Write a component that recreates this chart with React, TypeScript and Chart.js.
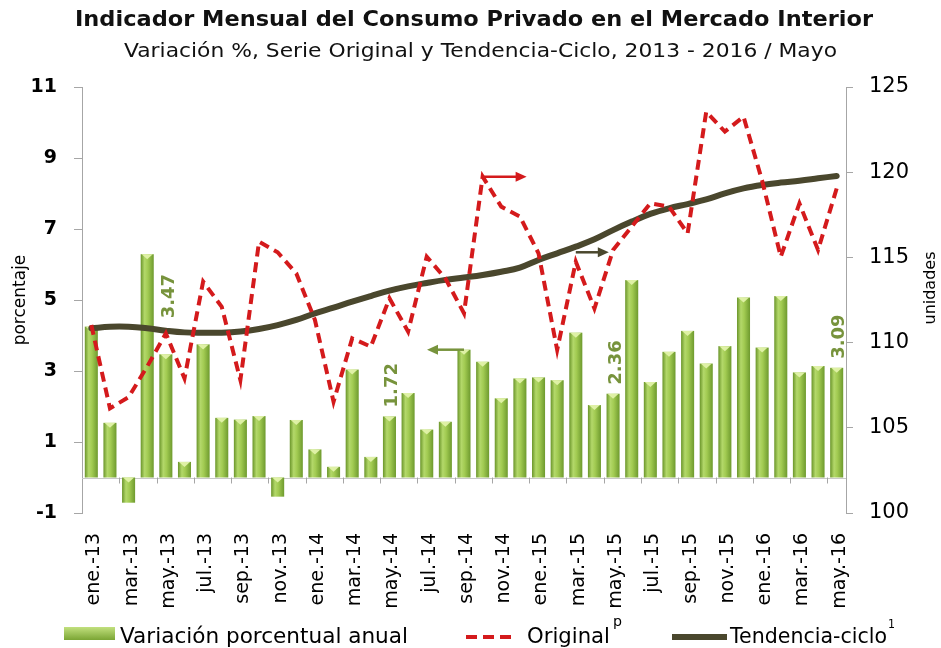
import React, { useEffect, useRef } from 'react';
import { Chart, registerables } from 'chart.js';

Chart.register(...registerables);

// ---------- data ----------
const categories: string[] = [
  'ene.-13', 'feb.-13', 'mar.-13', 'abr.-13', 'may.-13', 'jun.-13', 'jul.-13', 'ago.-13', 'sep.-13', 'oct.-13', 'nov.-13', 'dic.-13',
  'ene.-14', 'feb.-14', 'mar.-14', 'abr.-14', 'may.-14', 'jun.-14', 'jul.-14', 'ago.-14', 'sep.-14', 'oct.-14', 'nov.-14', 'dic.-14',
  'ene.-15', 'feb.-15', 'mar.-15', 'abr.-15', 'may.-15', 'jun.-15', 'jul.-15', 'ago.-15', 'sep.-15', 'oct.-15', 'nov.-15', 'dic.-15',
  'ene.-16', 'feb.-16', 'mar.-16', 'abr.-16', 'may.-16',
];

// Variación porcentual anual (left axis, %)
const variacionAnual: number[] = [
  4.25, 1.54, -0.71, 6.29, 3.47, 0.44, 3.75, 1.68, 1.63, 1.73, -0.54, 1.62,
  0.79, 0.30, 3.04, 0.58, 1.72, 2.38, 1.35, 1.57, 3.60, 3.26, 2.23, 2.79,
  2.82, 2.74, 4.08, 2.04, 2.36, 5.56, 2.69, 3.54, 4.13, 3.21, 3.70, 5.07,
  3.66, 5.11, 2.96, 3.14, 3.09,
];

// Serie original (right axis, unidades)
const serieOriginal: number[] = [
  111.03, 106.14, 106.8, 108.6, 110.54, 107.9, 113.58, 112.1, 107.8, 115.92, 115.3, 114.06,
  111.33, 106.53, 110.25, 109.76, 112.6, 110.64, 115.04, 113.77, 111.72, 119.74, 117.98, 117.4,
  115.24, 109.57, 114.75, 112.0, 115.43, 116.8, 118.17, 117.98, 116.41, 123.55, 122.38, 123.26,
  119.5, 115.04, 118.17, 115.43, 119.05,
];

// Tendencia-ciclo (right axis, unidades)
const tendenciaCiclo: number[] = [
  110.84, 110.93, 110.93, 110.84, 110.7, 110.6, 110.58, 110.58, 110.65, 110.8, 111.03, 111.33,
  111.72, 112.05, 112.4, 112.73, 113.05, 113.3, 113.5, 113.68, 113.82, 113.97, 114.16, 114.4,
  114.85, 115.24, 115.63, 116.06, 116.6, 117.1, 117.55, 117.88, 118.13, 118.4, 118.76, 119.05,
  119.25, 119.39, 119.5, 119.64, 119.78,
];

const leftAxis = { min: -1, max: 11, step: 2 };
const rightAxis = { min: 100, max: 125, step: 5 };

// indices of bars that carry a value label
const labeledBars: number[] = [4, 16, 28, 40];

const TITLE = 'Indicador Mensual del Consumo Privado en el Mercado Interior';
const SUBTITLE = 'Variación %, Serie Original y Tendencia-Ciclo, 2013 - 2016 / Mayo';
const LEFT_TITLE = 'porcentaje';
const RIGHT_TITLE = 'unidades';
const LEGEND_BAR = 'Variación porcentual anual';
const LEGEND_ORIG = 'Original';
const LEGEND_ORIG_SUP = 'p';
const LEGEND_TREND = 'Tendencia-ciclo';
const LEGEND_TREND_SUP = '1';

// ---------- styles ----------
const RED = '#d41a1c';
const DARK = '#4a472d';
const GREEN_TXT = '#77933c';
const AXIS_GRAY = '#a6a6a6';
const FONT = '"DejaVu Sans", sans-serif';

function fittedText(
  ctx: CanvasRenderingContext2D, text: string, x: number, y: number,
  font: string, width: number, color = '#000'
) {
  ctx.save();
  ctx.font = font;
  ctx.fillStyle = color;
  ctx.textAlign = 'left';
  ctx.textBaseline = 'alphabetic';
  const w = ctx.measureText(text).width;
  ctx.translate(x, y);
  ctx.scale(width / w, 1);
  ctx.fillText(text, 0, 0);
  ctx.restore();
}

function arrow(ctx: CanvasRenderingContext2D, x0: number, y: number, len: number, dir: number, color: string) {
  const x1 = x0 + dir * len;
  const head = 11;
  ctx.save();
  ctx.strokeStyle = color;
  ctx.fillStyle = color;
  ctx.lineWidth = 2.5;
  ctx.beginPath();
  ctx.moveTo(x0, y);
  ctx.lineTo(x1 - dir * head * 0.8, y);
  ctx.stroke();
  ctx.beginPath();
  ctx.moveTo(x1, y);
  ctx.lineTo(x1 - dir * head, y - 5);
  ctx.lineTo(x1 - dir * head, y + 5);
  ctx.closePath();
  ctx.fill();
  ctx.restore();
}

const decorPlugin = {
  id: 'decor',
  beforeDatasetsDraw(chart: any) {
    const { ctx, chartArea, scales } = chart;
    const y0 = scales.y.getPixelForValue(0);
    ctx.save();
    ctx.strokeStyle = '#c8c8c8';
    ctx.lineWidth = 1;
    ctx.beginPath();
    ctx.moveTo(chartArea.left, Math.round(y0) + 0.5);
    ctx.lineTo(chartArea.right, Math.round(y0) + 0.5);
    ctx.stroke();
    const n = categories.length;
    const step = (chartArea.right - chartArea.left) / n;
    ctx.strokeStyle = AXIS_GRAY;
    ctx.beginPath();
    for (let k = 2; k < n; k += 2) {
      const x = Math.round(chartArea.left + k * step) + 0.5;
      ctx.moveTo(x, y0);
      ctx.lineTo(x, y0 + 6);
    }
    ctx.stroke();
    ctx.restore();
  },
  beforeDatasetDraw(chart: any, args: any) {
    if (args.index !== 0) return;
    const { ctx } = chart;
    const meta = chart.getDatasetMeta(0);
    ctx.save();
    meta.data.forEach((el: any) => {
      const { x, y, base, width } = el.getProps(['x', 'y', 'base', 'width'], true);
      const left = x - width / 2;
      const top = Math.min(y, base);
      const h = Math.abs(base - y);
      const g = ctx.createLinearGradient(left, 0, left + width, 0);
      g.addColorStop(0, '#6a952a');
      g.addColorStop(0.3, '#b3d86a');
      g.addColorStop(0.55, '#a2cb52');
      g.addColorStop(1, '#6e9a2e');
      ctx.fillStyle = g;
      ctx.fillRect(left, top, width, h);
      ctx.fillStyle = 'rgba(225,242,170,0.95)';
      ctx.beginPath();
      ctx.moveTo(left + 1, top);
      ctx.lineTo(left + width - 1, top);
      ctx.lineTo(x, top + 5);
      ctx.closePath();
      ctx.fill();
    });
    ctx.restore();
    return false;
  },
  afterDatasetsDraw(chart: any) {
    const { ctx, scales } = chart;
    const x = scales.x;
    // arrows pointing to the axis each series uses
    arrow(ctx, x.getPixelForValue(21), scales.y1.getPixelForValue(serieOriginal[21]), 44, 1, RED);
    arrow(ctx, x.getPixelForValue(26), scales.y1.getPixelForValue(115.3), 33, 1, DARK);
    arrow(ctx, x.getPixelForValue(20), scales.y.getPixelForValue(variacionAnual[20]), 37, -1, GREEN_TXT);

    // value labels
    const meta = chart.getDatasetMeta(0);
    ctx.save();
    ctx.font = `bold 18px ${FONT}`;
    ctx.fillStyle = GREEN_TXT;
    ctx.textAlign = 'left';
    ctx.textBaseline = 'middle';
    labeledBars.forEach((i) => {
      const el = meta.data[i];
      const lift = i === 4 ? 36 : 9;
      ctx.save();
      ctx.translate(el.x + 3, el.y - lift);
      ctx.rotate(-Math.PI / 2);
      ctx.fillText(variacionAnual[i].toFixed(2), 0, 0);
      ctx.restore();
    });
    ctx.restore();
  },
  afterDraw(chart: any) {
    const { ctx } = chart;
    // titles
    fittedText(ctx, TITLE, 75, 26, `bold 22px ${FONT}`, 798, '#111');
    fittedText(ctx, SUBTITLE, 124, 57, `19px ${FONT}`, 713, '#111');

    // axis titles
    ctx.save();
    ctx.font = `17px ${FONT}`;
    ctx.fillStyle = '#000';
    ctx.textAlign = 'center';
    ctx.textBaseline = 'middle';
    ctx.save();
    ctx.translate(21, 300);
    ctx.rotate(-Math.PI / 2);
    ctx.fillText(LEFT_TITLE, 0, 0);
    ctx.restore();
    ctx.save();
    ctx.translate(931, 288);
    ctx.rotate(-Math.PI / 2);
    ctx.font = `16px ${FONT}`;
    ctx.fillText(RIGHT_TITLE, 0, 0);
    ctx.restore();
    ctx.restore();

    // legend
    ctx.save();
    const sg = ctx.createLinearGradient(0, 627, 0, 640);
    sg.addColorStop(0, '#c2e07e');
    sg.addColorStop(1, '#7aa534');
    ctx.fillStyle = sg;
    ctx.fillRect(64, 627, 51, 13);
    ctx.strokeStyle = RED;
    ctx.lineWidth = 4;
    ctx.setLineDash([11, 6]);
    ctx.beginPath();
    ctx.moveTo(466, 637);
    ctx.lineTo(511, 637);
    ctx.stroke();
    ctx.setLineDash([]);
    ctx.strokeStyle = DARK;
    ctx.lineWidth = 6;
    ctx.beginPath();
    ctx.moveTo(672, 637);
    ctx.lineTo(727, 637);
    ctx.stroke();
    ctx.restore();
    fittedText(ctx, LEGEND_BAR, 120, 643, `21px ${FONT}`, 288);
    fittedText(ctx, LEGEND_ORIG, 527, 643, `21px ${FONT}`, 83);
    fittedText(ctx, LEGEND_ORIG_SUP, 613, 626, `14px ${FONT}`, 9);
    fittedText(ctx, LEGEND_TREND, 730, 643, `21px ${FONT}`, 157);
    fittedText(ctx, LEGEND_TREND_SUP, 888, 628, `13px ${FONT}`, 7);
  },
};

export default function App() {
  const ref = useRef<HTMLCanvasElement | null>(null);

  useEffect(() => {
    if (!ref.current) return;
    const chart = new Chart(ref.current, {
      type: 'bar',
      data: {
        labels: categories,
        datasets: [
          {
            type: 'bar',
            label: LEGEND_BAR,
            data: variacionAnual,
            yAxisID: 'y',
            backgroundColor: '#9cc74a',
            barPercentage: 0.7,
            categoryPercentage: 1,
            order: 3,
          } as any,
          {
            type: 'line',
            label: LEGEND_TREND,
            data: tendenciaCiclo,
            yAxisID: 'y1',
            borderColor: DARK,
            borderWidth: 6,
            pointRadius: 0,
            tension: 0.4,
            borderCapStyle: 'round',
            order: 2,
          } as any,
          {
            type: 'line',
            label: LEGEND_ORIG,
            data: serieOriginal,
            yAxisID: 'y1',
            borderColor: RED,
            borderWidth: 4,
            borderDash: [10, 6],
            pointRadius: 0,
            tension: 0,
            order: 1,
          } as any,
        ],
      },
      options: {
        responsive: false,
        animation: false,
        devicePixelRatio: 1,
        layout: { padding: { top: 87, left: 0, right: 0, bottom: 0 } },
        plugins: {
          legend: { display: false },
          tooltip: { enabled: false },
          title: { display: false },
        },
        scales: {
          x: {
            offset: true,
            grid: { display: false },
            border: { display: false },
            ticks: {
              autoSkip: false,
              maxRotation: 90,
              minRotation: 90,
              padding: 12,
              labelOffset: 3,
              color: '#000',
              font: { family: 'DejaVu Sans', size: 19 },
              callback: (_v: any, i: number) => (i % 2 === 0 ? categories[i] : ''),
            },
            afterFit: (s: any) => { s.height = 135; },
          },
          y: {
            position: 'left',
            min: leftAxis.min,
            max: leftAxis.max,
            ticks: {
              stepSize: leftAxis.step,
              padding: 17,
              color: '#000',
              font: { family: 'DejaVu Sans', size: 19, weight: 'bold' },
            },
            grid: { drawOnChartArea: false, tickLength: 8, color: AXIS_GRAY },
            border: { color: AXIS_GRAY },
            afterFit: (s: any) => { s.width = 82; },
          },
          y1: {
            position: 'right',
            min: rightAxis.min,
            max: rightAxis.max,
            ticks: {
              stepSize: rightAxis.step,
              padding: 16,
              color: '#000',
              font: { family: 'DejaVu Sans', size: 21 },
            },
            grid: { drawOnChartArea: false, tickLength: 7, color: AXIS_GRAY },
            border: { color: AXIS_GRAY },
            afterFit: (s: any) => { s.width = 95; },
          },
        },
      } as any,
      plugins: [decorPlugin],
    });
    return () => chart.destroy();
  }, []);

  return (
    <div style={{ position: 'absolute', left: 0, top: 0, width: 941, height: 648, background: '#fff' }}>
      <canvas ref={ref} width={941} height={648} style={{ display: 'block' }} />
    </div>
  );
}
